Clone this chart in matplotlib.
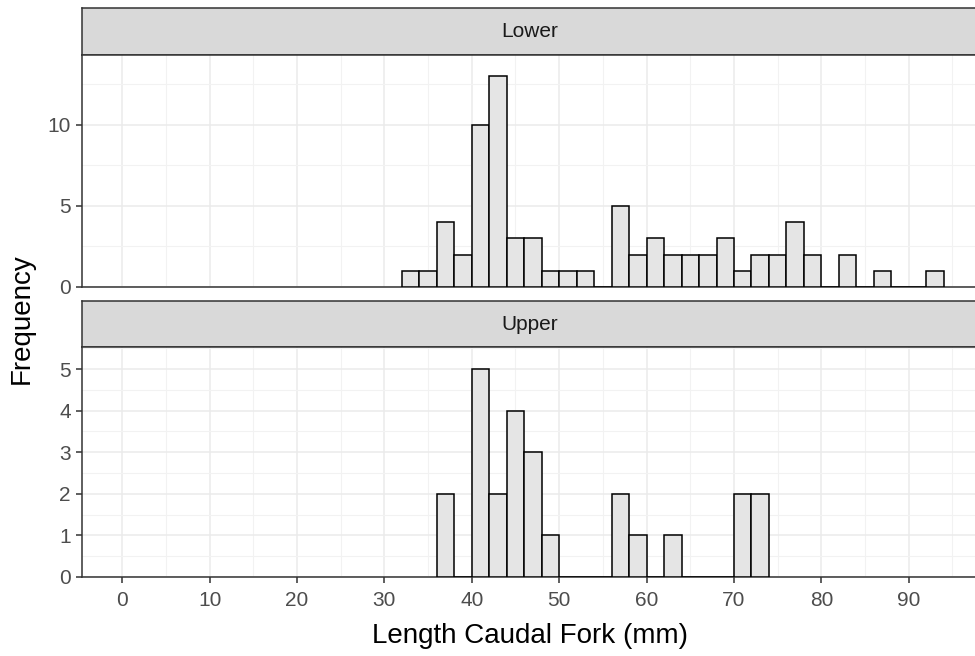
import numpy as np
import matplotlib.pyplot as plt
from matplotlib.ticker import MultipleLocator
import matplotlib as mpl

mpl.rcParams['font.family'] = ['Liberation Sans', 'DejaVu Sans']

# histogram bins (left edges, width 2 mm) and counts
bin_width = 2
lower_left = list(range(32, 94, 2))
lower_counts = [1, 1, 4, 2, 10, 13, 3, 3, 1, 1, 1, 0, 5, 2, 3, 2,
                2, 2, 3, 1, 2, 2, 4, 2, 0, 2, 0, 1, 0, 0, 1]
upper_left = list(range(36, 74, 2))
upper_counts = [2, 0, 5, 2, 4, 3, 1, 0, 0, 0, 2, 1, 0, 1, 0, 0, 0, 2, 2]

x_ticks = list(range(0, 100, 10))
lower_yticks = [0, 5, 10]
upper_yticks = [0, 1, 2, 3, 4, 5]
facets = ['Lower', 'Upper']

fig = plt.figure(figsize=(9.75, 6.56), dpi=100)
W, H = 975.0, 656.0
left = 82 / W
width = 1.0 - left + 0.002

def frac(top_px, bot_px):
    return [left, 1 - bot_px / H, width, (bot_px - top_px) / H]

strip_top = fig.add_axes(frac(8, 55))
ax1 = fig.add_axes(frac(55, 287))
strip_bot = fig.add_axes(frac(301, 347))
ax2 = fig.add_axes(frac(347, 577))

for s, name in zip([strip_top, strip_bot], facets):
    s.set_facecolor('#D9D9D9')
    s.set_xticks([])
    s.set_yticks([])
    for sp in s.spines.values():
        sp.set_color('#333333')
        sp.set_linewidth(1.1)
    s.text(0.5, 0.5, name, ha='center', va='center', fontsize=15,
           color='#1A1A1A', transform=s.transAxes)

def style(ax, lefts, counts, ymax, yticks, yminor):
    ax.bar(lefts, counts, width=bin_width, align='edge',
           color='#E5E5E5', edgecolor='black', linewidth=1.1, zorder=3)
    ax.set_xlim(-4.6, 97.8)
    ax.set_ylim(0, ymax)
    ax.set_xticks(x_ticks)
    ax.xaxis.set_minor_locator(MultipleLocator(5))
    ax.set_yticks(yticks)
    ax.yaxis.set_minor_locator(MultipleLocator(yminor))
    ax.grid(which='major', color='#EBEBEB', linewidth=1.1, zorder=0)
    ax.grid(which='minor', color='#F2F2F2', linewidth=0.8, zorder=0)
    ax.set_axisbelow(True)
    for sp in ax.spines.values():
        sp.set_color('#333333')
        sp.set_linewidth(1.1)
    ax.tick_params(which='minor', length=0)
    ax.tick_params(which='major', length=4, width=1.1, color='#333333',
                   labelsize=15, labelcolor='#4D4D4D', pad=4)
    ax.tick_params(axis='x', which='major', pad=6)

style(ax1, lower_left, lower_counts, 14.3, lower_yticks, 2.5)
style(ax2, upper_left, upper_counts, 5.53, upper_yticks, 0.5)
ax1.tick_params(axis='x', which='both', length=0, labelbottom=False)

fig.text(530 / W, 1 - 636 / H, 'Length Caudal Fork (mm)', ha='center',
         va='center', fontsize=20)
fig.text(22 / W, 1 - 319 / H, 'Frequency', rotation=90, ha='center',
         va='center', fontsize=20)

fig.savefig('out.png', dpi=100)
